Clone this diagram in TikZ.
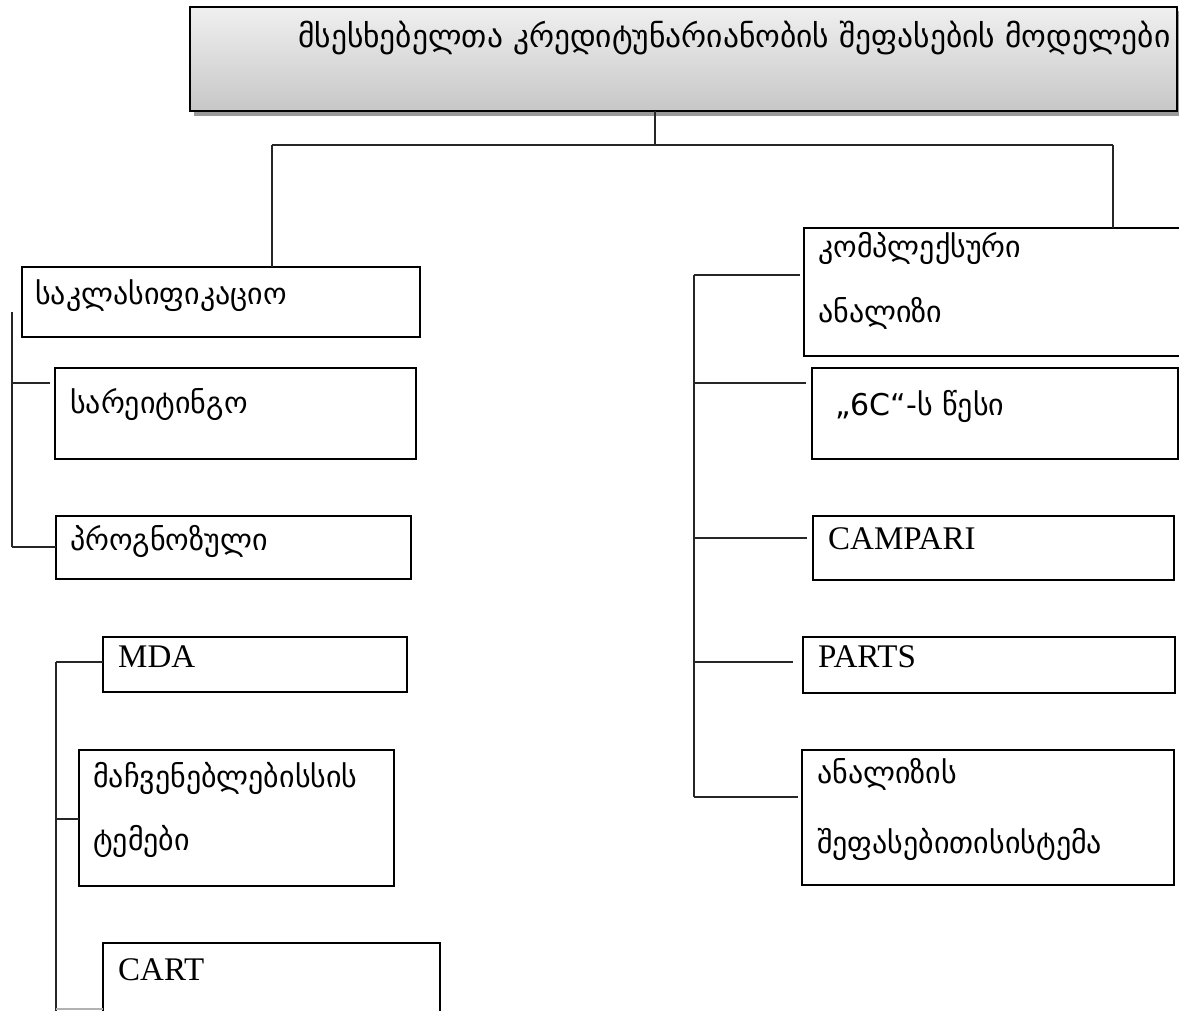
\documentclass[tikz,border=0pt]{standalone}
\usepackage{fontspec}
\setmainfont{Liberation Serif}
\newfontfamily\geo{DejaVu Sans}
\begin{document}
\begin{tikzpicture}[x=1pt,y=-1pt,
 box/.style={draw=black, line width=2.6pt, inner sep=0pt, outer sep=0pt, anchor=north west},
 conn/.style={draw=black!85, line width=2pt},
 geotxt/.style={font=\geo\fontsize{30}{36}\selectfont, inner sep=0pt, anchor=base west},
 lattxt/.style={font=\fontsize{33}{39}\selectfont, inner sep=0pt, anchor=base west}]
\useasboundingbox (0,0) rectangle (1179,1011);
\clip (0,0) rectangle (1179,1011);
% title with shadow
\fill[black!40] (194,11) rectangle (1179,116);
\node[box, line width=2pt, top color=black!6, bottom color=black!22, minimum width=987pt, minimum height=104pt] (title) at (190,7) {};
\node[geotxt, font=\geo\fontsize{31.5}{36}\selectfont] (titlet) at (298,48) {მსესხებელთა კრედიტუნარიანობის შეფასების მოდელები};
% left boxes
\node[box, minimum width=398pt, minimum height=70pt] (klas) at (22,267) {};
\node[box, minimum width=361pt, minimum height=91pt] (reit) at (55,368) {};
\node[box, minimum width=355pt, minimum height=63pt] (prog) at (56,516) {};
\node[box, minimum width=304pt, minimum height=55pt] (mda) at (103,637) {};
\node[box, minimum width=315pt, minimum height=136pt] (macv) at (79,750) {};
\node[box, minimum width=337pt, minimum height=90pt] (cart) at (103,943) {};
% right boxes
\node[box, minimum width=380pt, minimum height=128pt] (komp) at (804,228) {};
\node[box, minimum width=366pt, minimum height=91pt] (sixc) at (812,368) {};
\node[box, minimum width=361pt, minimum height=64pt] (camp) at (813,516) {};
\node[box, minimum width=372pt, minimum height=56pt] (parts) at (803,637) {};
\node[box, minimum width=372pt, minimum height=135pt] (anal) at (802,750) {};
% texts
\node[geotxt] (klast) at (35,305) {საკლასიფიკაციო};
\node[geotxt] (reitt) at (70,413) {სარეიტინგო};
\node[geotxt] (progt) at (70,550) {პროგნოზული};
\node[lattxt] (mdat) at (118,667) {MDA};
\node[geotxt] (macvt) at (93,787) {მაჩვენებლებისსის};
\node[geotxt] (macvt2) at (93,850) {ტემები};
\node[lattxt] (cartt) at (118,980) {CART};
\node[geotxt] (kompt) at (818,258) {კომპლექსური};
\node[geotxt] (kompt2) at (818,323) {ანალიზი};
\node[geotxt] (sixct) at (835,415) {„6C“-ს წესი};
\node[lattxt] (campt) at (828,549) {CAMPARI};
\node[lattxt] (partst) at (818,667) {PARTS};
\node[geotxt] (analt) at (817,783) {ანალიზის};
\node[geotxt] (analt2) at (817,853) {შეფასებითისისტემა};
% junction coordinates
\coordinate (j0) at (655,145);
\coordinate (jl) at (272,145);
\coordinate (jr) at (1113,145);
\coordinate (lb1) at (12,312);
\coordinate (lb2) at (12,547);
\coordinate (ll1) at (56,662);
\coordinate (ll2) at (56,1015);
\coordinate (rb1) at (694,275);
\coordinate (rb2) at (694,797);
% connectors
\draw[conn] (title.south -| j0) -- (j0);
\draw[conn] (jl) -- (jr);
\draw[conn] (jl) -- (klas.north -| jl);
\draw[conn] (jr) -- (komp.north -| jr);
\draw[conn] (lb1) -- (lb2);
\draw[conn, shorten >=5pt] (lb1 |- 0,383) -- (reit.west |- 0,383);
\draw[conn] (lb2) -- (prog.west |- lb2);
\draw[conn] (ll1) -- (ll2);
\draw[conn] (ll1) -- (mda.west |- ll1);
\draw[conn] (ll1 |- 0,819) -- (macv.west |- 0,819);
\draw[conn, draw=black!30] (ll1 |- 0,1009) -- (cart.west |- 0,1009);
\draw[conn] (rb1) -- (rb2);
\draw[conn, shorten >=4pt] (rb1) -- (komp.west |- rb1);
\draw[conn, shorten >=6pt] (rb1 |- 0,383) -- (sixc.west |- 0,383);
\draw[conn, shorten >=6pt] (rb1 |- 0,538) -- (camp.west |- 0,538);
\draw[conn, shorten >=10pt] (rb1 |- 0,662) -- (parts.west |- 0,662);
\draw[conn, shorten >=4pt] (rb2) -- (anal.west |- rb2);
\end{tikzpicture}
\end{document}
